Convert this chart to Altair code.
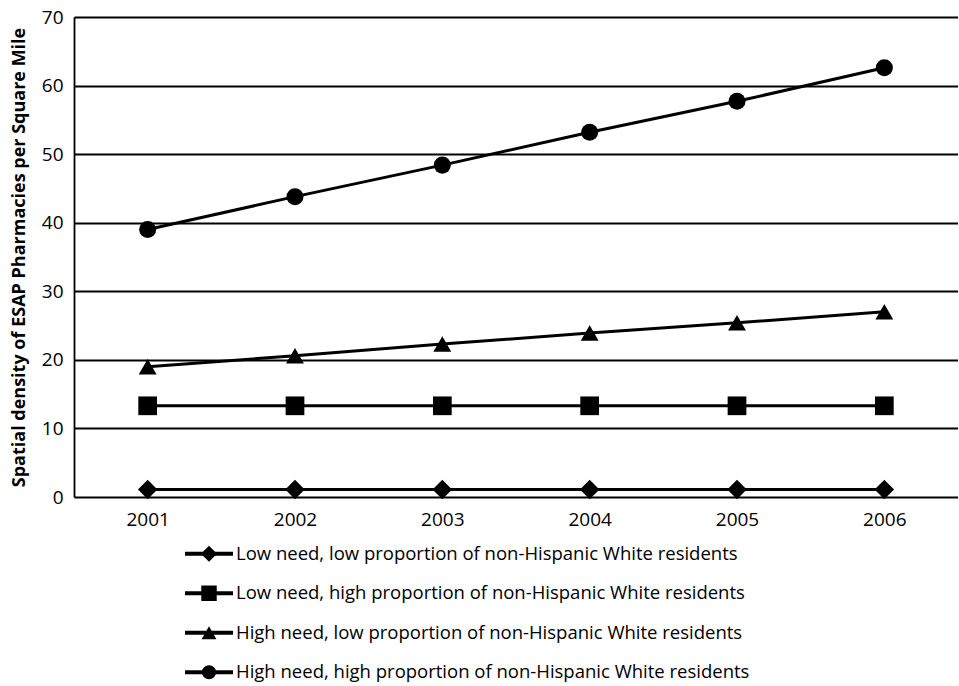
import altair as alt
import pandas as pd

years = ["2001", "2002", "2003", "2004", "2005", "2006"]
series_names = [
    "Low need, low proportion of non-Hispanic White residents",
    "Low need, high proportion of non-Hispanic White residents",
    "High need, low proportion of non-Hispanic White residents",
    "High need, high proportion of non-Hispanic White residents",
]
low_need_low_white = [1.1, 1.1, 1.1, 1.1, 1.1, 1.1]
low_need_high_white = [13.3, 13.3, 13.3, 13.3, 13.3, 13.3]
high_need_low_white = [19.0, 20.6, 22.3, 23.9, 25.4, 27.0]
high_need_high_white = [39.0, 43.8, 48.4, 53.2, 57.7, 62.6]
y_ticks = [0, 10, 20, 30, 40, 50, 60, 70]

shapes = ["diamond", "square", "triangle-up", "circle"]
plot_sizes = [380, 290, 300, 290]
legend_sizes = [260, 200, 200, 190]

FONT = "Open Sans"

rows = []
for name, vals in zip(series_names, [low_need_low_white, low_need_high_white,
                                     high_need_low_white, high_need_high_white]):
    for yr, v in zip(years, vals):
        rows.append({"year": yr, "series": name, "value": v})
df = pd.DataFrame(rows)

x_enc = alt.X(
    "year:O",
    scale=alt.Scale(type="point", padding=0.5),
    axis=alt.Axis(title=None, labelAngle=0, domain=False, ticks=False,
                  labelPadding=13, labelFontSize=19, labelFont=FONT,
                  labelColor="black"),
)
y_enc = alt.Y(
    "value:Q",
    scale=alt.Scale(domain=[0, 70], nice=False),
    axis=alt.Axis(values=y_ticks, title="Spatial density of ESAP Pharmacies per Square Mile",
                  titleFont=FONT, titleFontSize=18, titleFontWeight="bold",
                  titleColor="black", titlePadding=13,
                  grid=True, gridColor="black", gridWidth=1.8, gridOpacity=1,
                  ticks=False, domain=True, domainColor="black", domainWidth=1.8,
                  labelPadding=11, labelFontSize=19, labelFont=FONT,
                  labelColor="black"),
)

lines = alt.Chart(df).mark_line(color="black", strokeWidth=3).encode(
    x=x_enc, y=y_enc, detail="series:N"
)
points = alt.Chart(df).mark_point(filled=True, color="black", opacity=1).encode(
    x=x_enc,
    y=y_enc,
    shape=alt.Shape("series:N", scale=alt.Scale(domain=series_names, range=shapes), legend=None),
    size=alt.Size("series:N", scale=alt.Scale(domain=series_names, range=plot_sizes), legend=None),
)
main = alt.layer(lines, points).properties(width=884, height=480)

leg_df = pd.DataFrame({"series": series_names})
ly = alt.Y("series:N", scale=alt.Scale(domain=series_names, type="point", padding=0.5), axis=None)
leg_rule = alt.Chart(leg_df).mark_rule(color="black", strokeWidth=4).encode(
    x=alt.value(111), x2=alt.value(159), y=ly
)
leg_pts = alt.Chart(leg_df).mark_point(filled=True, color="black", opacity=1).encode(
    x=alt.value(135),
    y=ly,
    shape=alt.Shape("series:N", scale=alt.Scale(domain=series_names, range=shapes), legend=None),
    size=alt.Size("series:N", scale=alt.Scale(domain=series_names, range=legend_sizes), legend=None),
)
leg_txt = alt.Chart(leg_df).mark_text(
    align="left", baseline="middle", fontSize=18.5, font=FONT, color="black"
).encode(x=alt.value(162), y=ly, text="series:N")
legend = alt.layer(leg_rule, leg_pts, leg_txt).properties(width=884, height=158)

chart = alt.vconcat(main, legend, spacing=5).resolve_scale(
    y="independent", shape="independent", size="independent"
).properties(
    padding={"left": 10, "top": 8, "right": 0, "bottom": 0},
    background="white",
).configure_view(stroke=None)

chart.save("out.html", embed_options={"renderer": "svg", "actions": False})
